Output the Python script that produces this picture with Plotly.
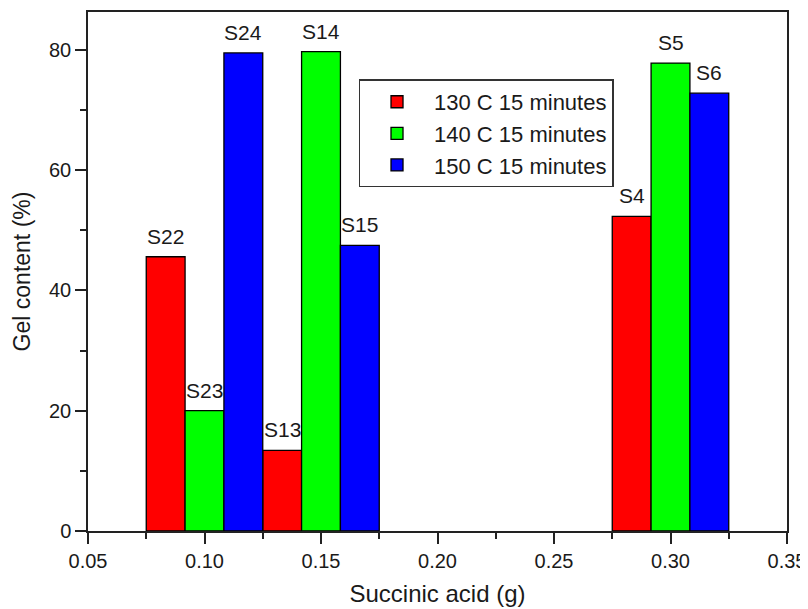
import plotly.graph_objects as go

acid = [0.10, 0.15, 0.30]
series_names = ["130 C 15 minutes", "140 C 15 minutes", "150 C 15 minutes"]
gel_130 = [45.6, 13.4, 52.3]
gel_140 = [20.0, 79.7, 77.8]
gel_150 = [79.5, 47.5, 72.8]
labels_130 = ["S22", "S13", "S4"]
labels_140 = ["S23", "S14", "S5"]
labels_150 = ["S24", "S15", "S6"]

colors = ["#ff0000", "#00ff00", "#0000ff"]
values = [gel_130, gel_140, gel_150]
labels = [labels_130, labels_140, labels_150]

bw = 1 / 60
FONT = "Liberation Sans, Arial, sans-serif"
TXT = "#1a1a1a"

fig = go.Figure()
annotations = []
for i, (name, vals, col, lab) in enumerate(zip(series_names, values, colors, labels)):
    off = -1.5 * bw + i * bw
    fig.add_trace(go.Bar(
        x=acid, y=vals, name=name, width=bw, offset=off,
        marker=dict(color=col, line=dict(color="black", width=1.3)),
    ))
    for xv, yv, t in zip(acid, vals, lab):
        annotations.append(dict(
            x=xv + off + bw / 2, y=yv, text=t, showarrow=False,
            xanchor="center", yanchor="bottom", yshift=7,
            font=dict(size=21, family=FONT, color=TXT),
        ))

fig.update_layout(
    width=800, height=601,
    margin=dict(l=80, r=20, t=2, b=78),
    barmode="overlay",
    plot_bgcolor="white", paper_bgcolor="white",
    font=dict(family=FONT, color=TXT),
    annotations=annotations,
    showlegend=True,
    legend=dict(
        x=0.387, y=0.87, xanchor="left", yanchor="top",
        bordercolor="#333", borderwidth=1.5, bgcolor="white",
        font=dict(size=22, family=FONT, color=TXT),
        tracegroupgap=0, itemwidth=64,
    ),
    xaxis=dict(
        range=[0.05, 0.35], dtick=0.05, tickformat=".2f",
        ticks="outside", ticklen=11, tickwidth=1.5, tickcolor="#222",
        minor=dict(dtick=0.025, ticks="outside", ticklen=6, tickcolor="#222", tickwidth=1.5),
        showline=True, linecolor="#222", linewidth=1.5, mirror=True,
        showgrid=False, zeroline=False,
        tickfont=dict(size=20, family=FONT, color=TXT),
        title=dict(text="Succinic acid (g)", font=dict(size=24, family=FONT, color=TXT), standoff=14),
    ),
    yaxis=dict(
        range=[0, 86.3], dtick=20, tick0=0,
        ticks="outside", ticklen=11, tickwidth=1.5, tickcolor="#222",
        minor=dict(dtick=10, ticks="outside", ticklen=6, tickcolor="#222", tickwidth=1.5),
        showline=True, linecolor="#222", linewidth=1.5, mirror=True,
        showgrid=False, zeroline=False,
        tickfont=dict(size=20, family=FONT, color=TXT),
        title=dict(text="Gel content (%)", font=dict(size=23, family=FONT, color=TXT), standoff=12),
    ),
)

fig.write_html("out.html")
